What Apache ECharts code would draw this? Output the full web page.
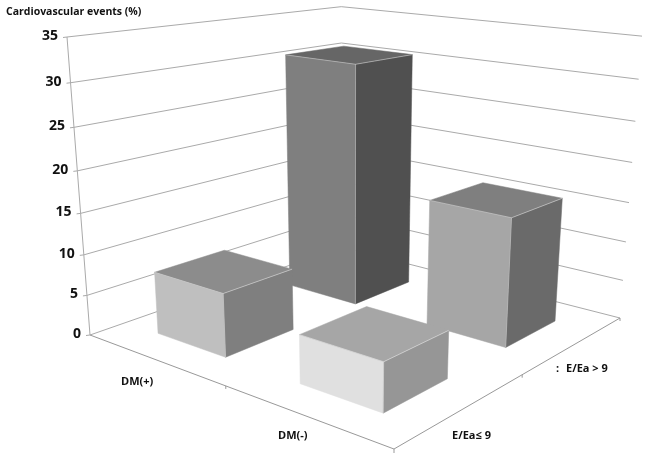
<!DOCTYPE html>
<html>
<head>
<meta charset="utf-8">
<style>
  html, body { margin: 0; background: #fff; }
  #chart { width: 650px; height: 459px; }
</style>
<script src="https://cdn.jsdelivr.net/npm/echarts@6/dist/echarts.min.js"></script>
</head>
<body>
<div id="chart"></div>
<script>
// data
var dmLabels = ['DM(+)', 'DM(-)'];
var eeaLabels = ['E/Ea\u2264 9', 'E/Ea > 9'];
var lowEea = [7.7, 5.7];   // E/Ea<=9, per DM group
var highEea = [30.7, 15.8];  // E/Ea>9, per DM group
var yTicks = [0, 5, 10, 15, 20, 25, 30, 35];
var yTitle = 'Cardiovascular events (%)';

// corners of the box as seen in the picture: A left, B front, C right, D back (floor),
// E above A, G above C
var A = [90, 335], B = [394, 449], C = [620, 318], D = [342, 247];
var E = [67, 37], G = [642, 33];

// perspective camera, fitted from the corners
var dx1 = B[0] - C[0], dx2 = D[0] - C[0], sx = A[0] - B[0] + C[0] - D[0];
var dy1 = B[1] - C[1], dy2 = D[1] - C[1], sy = A[1] - B[1] + C[1] - D[1];
var den = dx1 * dy2 - dx2 * dy1;
var pg = (sx * dy2 - dx2 * sy) / den, ph = (dx1 * sy - sx * dy1) / den;
var pa = B[0] - A[0] + pg * B[0], pb = D[0] - A[0] + ph * D[0], pc = A[0];
var pd = B[1] - A[1] + pg * B[1], pe = D[1] - A[1] + ph * D[1], pf = A[1];
var k = pg + ph + 1;
var r1 = E[0] - pc, r2 = G[0] * k - (pa + pb + pc);
var pr = (r1 - r2) / (G[0] - E[0]);
var pp = r1 + E[0] * pr;
var pq = E[1] - pf + E[1] * pr;

function project(u, v, t) {
  var w = pg * u + ph * v + pr * t + 1;
  return [(pa * u + pb * v + pp * t + pc) / w, (pd * u + pe * v + pq * t + pf) / w];
}

var gapU = 0.125, gapNear = 0.12, gapFar = 0.135;
var barColors = {
  '0-0': ['#bfbfbf', '#7f7f7f', '#8c8c8c'],
  '1-0': ['#e0e0e0', '#969696', '#a6a6a6'],
  '0-1': ['#7f7f7f', '#505050', '#666666'],
  '1-1': ['#a6a6a6', '#6a6a6a', '#7f7f7f']
};

// back to front so nearer bars cover the others
var barData = [
  [0, highEea[0], 1],
  [1, highEea[1], 1],
  [0, lowEea[0], 0],
  [1, lowEea[1], 0]
];

// share of the axis height, taken from the (hidden) value axis
function heightShare(api, value) {
  var base = api.coord([0, 0])[1];
  var top = api.coord([0, 35])[1];
  return (base - api.coord([0, value])[1]) / (base - top);
}

function renderBar(params, api) {
  var di = api.value(0), val = api.value(1), ei = api.value(2);
  var t = heightShare(api, val);
  var u0 = di * 0.5 + gapU, u1 = di * 0.5 + 0.5 - gapU;
  var v0 = ei * 0.5 + gapNear, v1 = ei * 0.5 + 0.5 - gapFar;
  var c = barColors[di + '-' + ei];
  var left = [project(u0, v0, 0), project(u1, v0, 0), project(u1, v0, t), project(u0, v0, t)];
  var right = [project(u1, v0, 0), project(u1, v1, 0), project(u1, v1, t), project(u1, v0, t)];
  var top = [project(u0, v0, t), project(u1, v0, t), project(u1, v1, t), project(u0, v1, t)];
  function face(pts, color) {
    return { type: 'polygon', shape: { points: pts }, style: { fill: color, stroke: color, lineWidth: 0.5 } };
  }
  var edge = { stroke: 'rgba(255,255,255,0.4)', lineWidth: 1, fill: null };
  return {
    type: 'group',
    children: [
      face(left, c[0]), face(right, c[1]), face(top, c[2]),
      { type: 'polyline', shape: { points: [left[3], left[2], right[2]] }, style: edge },
      { type: 'line', shape: { x1: left[1][0], y1: left[1][1], x2: left[2][0], y2: left[2][1] }, style: edge }
    ]
  };
}

function line(p, q, color) {
  return {
    type: 'line',
    shape: { x1: p[0], y1: p[1], x2: q[0], y2: q[1] },
    style: { stroke: color, lineWidth: 1 }
  };
}

function label(text, x, y, size, align) {
  return {
    type: 'text',
    style: {
      text: text, x: x, y: y, fill: '#111',
      font: 'bold ' + size + 'px "Open Sans"',
      align: align || 'left', verticalAlign: 'middle'
    }
  };
}

// one gridline round the two back walls, with its tick and label
function renderWall(params, api) {
  var val = api.value(0);
  var t = heightShare(api, val);
  var a = project(0, 0, t), d = project(0, 1, t), c = project(1, 1, t);
  return {
    type: 'group',
    children: [
      line(a, d, '#aaaaaa'), line(d, c, '#aaaaaa'),
      line([a[0] - 4, a[1] + 0.5], a, '#aaaaaa'),
      label(String(val), a[0] - 9, a[1] - 1, 14, 'right')
    ]
  };
}

function renderFloor(params, api) {
  var top = project(0, 0, 1);
  var a = project(0, 0, 0), b = project(1, 0, 0), c = project(1, 1, 0);
  var midDm = project(0.5, 0, 0), midE = project(1, 0.5, 0);
  return {
    type: 'group',
    children: [
      line(a, top, '#aaaaaa'), line(a, b, '#999999'), line(b, c, '#999999'),
      line(b, [b[0], b[1] + 4], '#999999'),
      line(midDm, [midDm[0], midDm[1] + 3], '#999999'),
      line(midE, [midE[0], midE[1] + 3], '#999999'),
      line(c, [c[0], c[1] + 3], '#999999'),
      label(dmLabels[0], 121, 382, 11),
      label(dmLabels[1], 278, 436, 11),
      label(eeaLabels[0], 452, 436, 11),
      label(eeaLabels[1], 566, 369, 11),
      label(':', 556, 369, 11),
      label(yTitle, 6, 12, 10.5)
    ]
  };
}

var chart = echarts.init(document.getElementById('chart'), null, { renderer: 'canvas' });
chart.setOption({
  animation: false,
  backgroundColor: '#ffffff',
  grid: { left: 90, right: 30, top: 37, bottom: 124 },
  xAxis: { type: 'category', data: dmLabels, show: false },
  yAxis: { type: 'value', min: 0, max: 35, interval: 5, show: false },
  series: [
    {
      type: 'custom', renderItem: renderWall, z: 1, silent: true,
      data: yTicks.map(function (v) { return [v]; }),
      encode: { y: 0 }
    },
    {
      type: 'custom', renderItem: renderFloor, z: 2, silent: true,
      data: [[0]],
      encode: { y: 0 }
    },
    {
      type: 'custom', renderItem: renderBar, z: 3, silent: true,
      data: barData,
      encode: { x: 0, y: 1 }
    }
  ]
});
</script>
</body>
</html>
